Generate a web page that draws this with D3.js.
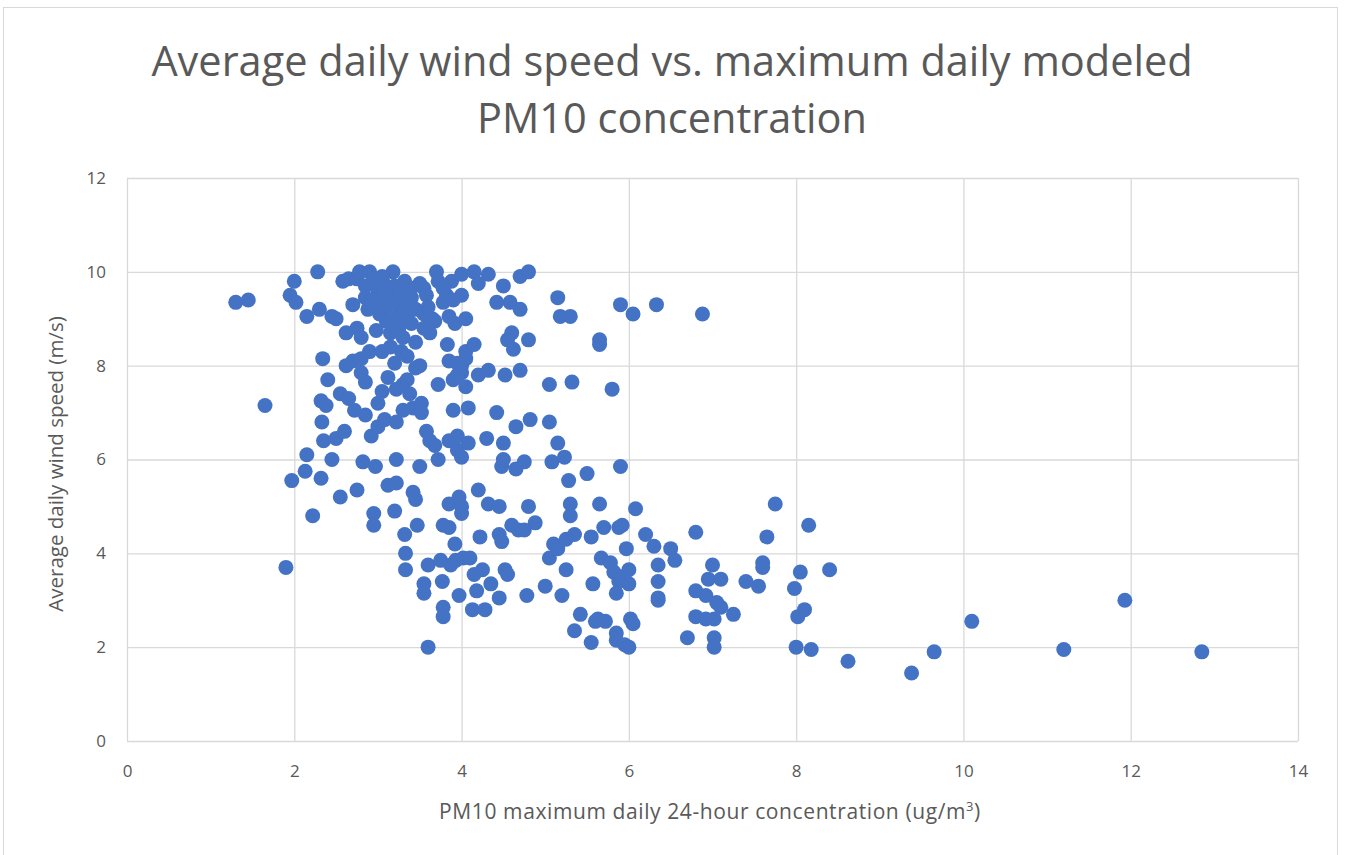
<!DOCTYPE html>
<html>
<head>
<meta charset="utf-8">
<script src="https://cdn.jsdelivr.net/npm/d3@7"></script>
<style>
  body { margin: 0; background: #fff; }
  text { font-family: "Open Sans", "Liberation Sans", sans-serif; fill: #595959; }
</style>
</head>
<body>
<div id="chart"></div>
<script>
// Datos
const pm10 = [1.3,1.45,1.65,1.9,1.97,1.95,2.0,2.02,2.15,2.15,2.13,2.22,2.28,2.3,2.32,2.33,2.34,2.35,2.32,2.38,2.4,2.45,2.5,2.45,2.5,2.55,2.55,2.58,2.6,2.62,2.62,2.65,2.65,2.7,2.7,2.72,2.75,2.75,2.75,2.78,2.8,2.8,2.8,2.82,2.85,2.85,2.85,2.88,2.9,2.9,2.92,2.95,2.95,2.97,2.95,2.98,3.0,3.0,3.0,3.02,3.05,3.05,3.07,3.08,3.1,3.12,3.12,3.15,3.18,3.18,3.2,3.22,3.22,3.22,3.22,3.25,3.25,3.27,3.28,3.3,3.3,3.32,3.32,3.33,3.33,3.35,3.35,3.38,3.4,3.42,3.42,3.45,3.45,3.45,3.47,3.5,3.5,3.52,3.52,3.55,3.55,3.55,3.58,3.58,3.6,3.6,3.62,3.62,3.65,3.68,3.7,3.72,3.72,3.72,3.75,3.77,3.78,3.78,3.78,3.78,3.82,3.83,3.85,3.85,3.85,3.85,3.87,3.88,3.9,3.9,3.92,3.92,3.93,3.95,3.95,3.97,3.97,4.0,4.0,4.0,4.0,4.0,4.0,4.0,4.02,4.05,4.05,4.05,4.08,4.08,4.1,4.13,4.15,4.15,4.15,4.18,4.2,4.2,4.2,4.22,4.25,4.28,4.3,4.32,4.32,4.32,4.35,4.42,4.42,4.45,4.45,4.45,4.48,4.48,4.5,4.5,4.5,4.52,4.52,4.55,4.55,4.58,4.6,4.6,4.62,4.65,4.65,4.68,4.7,4.7,4.7,4.75,4.75,4.78,4.8,4.8,4.8,4.82,4.88,5.0,5.05,5.05,5.05,5.08,5.1,5.15,5.15,5.15,5.18,5.2,5.23,5.25,5.25,5.28,5.3,5.3,5.3,5.32,5.35,5.35,5.42,5.5,5.55,5.55,5.57,5.6,5.63,5.65,5.65,5.65,5.67,5.7,5.72,5.78,5.8,5.82,5.85,5.85,5.85,5.88,5.88,5.9,5.9,5.92,5.92,5.95,5.97,6.0,6.0,6.0,6.02,6.05,6.05,6.08,6.2,6.3,6.33,6.35,6.35,6.35,6.35,6.5,6.55,6.7,6.8,6.8,6.8,6.88,6.92,6.92,6.95,7.0,7.02,7.02,7.02,7.05,7.1,7.1,7.25,7.4,7.55,7.6,7.6,7.65,7.75,7.98,8.0,8.02,8.05,8.1,8.15,8.18,8.4,8.62,9.38,9.65,10.1,11.2,11.93,12.85,
  2.95,3.05,3.1,3.15,3.2,3.28,3.35,3.4,3.45,3.55,3.6,3.1,3.2,2.85,3.0,3.4,3.3,3.15,3.85,3.9,3.95,4.05,3.95,3.2,3.35,3.5,3.55,3.68,3.78];

const windSpeed = [9.35,9.4,7.15,3.7,5.55,9.5,9.8,9.35,9.05,6.1,5.75,4.8,10.0,9.2,7.25,6.8,8.15,6.4,5.6,7.15,7.7,9.05,9.0,6.0,6.45,5.2,7.4,9.8,6.6,8.7,8.0,9.85,7.3,8.1,9.3,7.05,5.35,8.8,9.85,10.0,8.6,8.15,7.85,5.95,9.7,7.65,6.95,9.2,8.3,10.0,6.5,4.85,4.6,5.85,9.85,8.75,9.6,7.2,6.7,9.1,8.3,7.45,9.75,6.85,9.25,7.75,5.45,8.7,10.0,9.5,4.9,7.5,6.8,6.0,5.5,9.4,8.8,9.15,8.3,7.6,7.05,9.8,4.4,4.0,3.65,9.0,8.2,7.4,9.45,5.3,7.1,5.15,8.5,7.95,4.6,9.75,5.85,7.2,7.0,3.35,3.15,9.1,9.5,6.6,3.75,2.0,8.7,6.4,9.0,6.3,10.0,9.8,7.6,6.0,3.85,3.4,2.85,2.65,4.6,9.35,9.5,8.45,8.1,6.4,5.05,4.55,3.75,9.8,7.7,7.05,8.9,4.2,3.85,6.5,6.2,5.2,3.1,9.95,9.5,8.0,7.85,6.05,5.0,4.85,3.9,9.0,8.3,7.55,7.1,6.35,3.9,2.8,10.0,8.45,3.55,3.2,9.75,7.8,5.35,4.35,3.65,2.8,6.45,9.95,7.9,5.05,3.35,9.35,7.0,5.0,4.4,3.05,5.85,4.25,9.7,6.35,6.0,7.8,3.65,3.55,8.55,9.35,8.7,4.6,8.35,6.7,5.8,4.5,9.2,7.9,9.9,5.95,4.5,3.1,10.0,8.55,5.0,6.85,4.65,3.3,7.6,6.8,3.9,5.95,4.2,9.45,6.35,4.1,9.05,3.1,6.05,4.3,3.65,5.55,9.05,5.05,4.8,7.65,4.4,2.35,2.7,5.7,4.35,2.1,3.35,2.55,2.6,5.05,8.55,8.45,3.9,4.55,2.55,3.8,7.5,3.6,3.15,2.3,2.15,4.55,3.4,9.3,5.85,4.6,3.5,2.05,4.1,3.65,3.35,2.0,2.6,2.5,9.1,4.95,4.4,4.15,9.3,3.75,3.4,3.05,3.0,4.1,3.85,2.2,4.45,3.2,2.65,9.1,3.1,2.6,3.45,3.75,2.2,2.0,2.6,2.95,3.45,2.85,2.7,3.4,3.3,3.8,3.7,4.35,5.05,3.25,2.0,2.65,3.6,2.8,4.6,1.95,3.65,1.7,1.45,1.9,2.55,1.95,3.0,1.9,
  9.4,9.9,9.55,9.3,9.7,9.6,9.3,9.65,9.2,9.65,9.25,8.95,9.0,9.45,9.35,8.9,8.6,8.4,9.05,9.4,8.05,8.15,7.8,8.05,7.7,8.0,8.8,8.95,9.65];

const xTicks = [0, 2, 4, 6, 8, 10, 12, 14];
const yTicks = [0, 2, 4, 6, 8, 10, 12];

const titleLines = ['Average daily wind speed vs. maximum daily modeled', 'PM10 concentration'];

let W = 1346, H = 855;
let margin = {top: 178, right: 48, bottom: 114, left: 127},
    width = W - margin.left - margin.right,
    height = H - margin.top - margin.bottom;

let root = d3.select('#chart').append('svg')
    .attr('width', W).attr('height', H);

// Borde del gráfico
root.append('rect')
    .attr('x', 3.5).attr('y', 7.5)
    .attr('width', 1334).attr('height', 850)
    .attr('fill', 'none').attr('stroke', '#d9d9d9');

// Título
root.append('g').selectAll('text')
    .data(titleLines)
    .enter().append('text')
    .attr('x', 672)
    .attr('y', function(d, i) { return 76 + i * 57; })
    .attr('text-anchor', 'middle')
    .style('font-size', '41.5px')
    .text(function(d) { return d; });

let svg = root.append('g')
    .attr('transform', 'translate(' + margin.left + ',' + margin.top + ')');

let x = d3.scaleLinear().domain([0, 14]).range([0, width]);
let y = d3.scaleLinear().domain([0, 12]).range([height, 0]);

// Rejilla + ejes
let xAxis = function(g) {
    g.call(d3.axisBottom(x).tickValues(xTicks).tickSize(-height).tickPadding(24));
    g.call(function(g) { g.select('.domain').remove(); });
    g.call(function(g) { g.selectAll('.tick line').attr('stroke', '#d9d9d9').attr('stroke-width', 1.3); });
    g.call(function(g) { g.selectAll('.tick text').style('font-size', '17px').attr('fill', '#595959'); });
};
let yAxis = function(g) {
    g.call(d3.axisLeft(y).tickValues(yTicks).tickSize(-width).tickPadding(21));
    g.call(function(g) { g.select('.domain').remove(); });
    g.call(function(g) { g.selectAll('.tick line').attr('stroke', '#d9d9d9').attr('stroke-width', 1.3); });
    g.call(function(g) { g.selectAll('.tick text').style('font-size', '17px').attr('fill', '#595959'); });
};

svg.append('g').attr('transform', 'translate(0,' + height + ')').call(xAxis);
svg.append('g').call(yAxis);

// Puntos
let data = pm10.map(function(d, i) { return {x: d, y: windSpeed[i]}; });
svg.append('g').selectAll('circle')
    .data(data)
    .enter().append('circle')
    .attr('cx', function(d) { return x(d.x); })
    .attr('cy', function(d) { return y(d.y); })
    .attr('r', 7.5)
    .attr('fill', '#4472C4');

// Etiquetas de los ejes
let xl = root.append('text')
    .attr('x', 710)
    .attr('y', 819)
    .attr('text-anchor', 'middle')
    .style('font-size', '21px')
    .style('letter-spacing', '0.6px');
xl.append('tspan').text('PM10 maximum daily 24-hour concentration (ug/m');
xl.append('tspan').attr('dy', -8).style('font-size', '13px').text('3');
xl.append('tspan').attr('dy', 8).text(')');

root.append('text')
    .attr('transform', 'translate(63,' + 464 + ') rotate(-90)')
    .attr('text-anchor', 'middle')
    .style('font-size', '20.5px')
    .text('Average daily wind speed (m/s)');
</script>
</body>
</html>
